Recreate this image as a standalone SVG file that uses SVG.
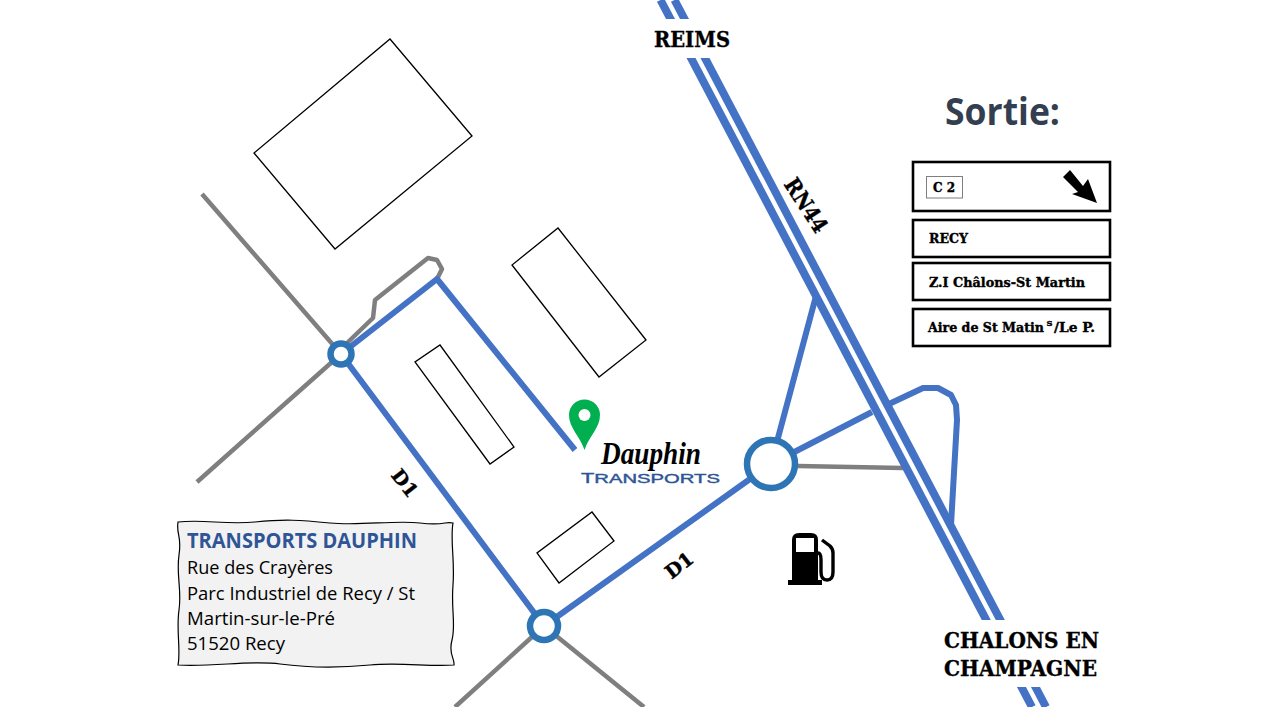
<svg xmlns="http://www.w3.org/2000/svg" width="1262" height="707" viewBox="0 0 1262 707">
<style>
.bld{fill:#fff;stroke:#000;stroke-width:1.3}
.blue{fill:none;stroke:#4472c4;stroke-width:6;stroke-linejoin:round}
.road{fill:none;stroke:#4472c4;stroke-width:8}
.gray{fill:none;stroke:#7f7f7f;stroke-width:4.5;stroke-linejoin:round}
.ring{fill:#fff;stroke:#2e75b6;stroke-width:6.5}
.slab{font-family:"DejaVu Serif","Liberation Serif",serif;font-weight:700;fill:#000;stroke:#000;stroke-width:.4}
.lab{font-size:22px}
.sign{font-size:13.5px}
.box{fill:#fff;stroke:#000;stroke-width:2.6}
.addr{font-family:"Open Sans","Noto Sans",sans-serif;font-size:19px;fill:#000}
</style>
<rect width="1262" height="707" fill="#fff"/>
<g id="buildings">
<polygon class="bld" points="390,39 472,136 335,249 254,153"/>
<polygon class="bld" points="558,228 646,340 599,377 512,265"/>
<polygon class="bld" points="440,345 514,447 490,464 415,362"/>
<polygon class="bld" points="592,512 614,541 559,583 537,553"/>
</g>
<g id="connectors">
<path class="gray" d="M202,194L341,354M197,482L341,354M455,707L544,626L644,707M798,466L903,468"/>
<path class="gray" d="M346,344L373,318L375,300L428,258L437,260L442,269L437,279"/>
<path class="blue" d="M341,354L437,279L575,450"/>
<path class="blue" d="M341,354L544,626L771,464"/>
<path class="blue" d="M771,464L816,296"/>
<path class="blue" d="M771,464L872,412"/>
<path class="blue" d="M889,404L923,388L938,388L951,395L956,405L957,420L951,525"/>
<path class="road" d="M660.5,0L1032,707"/>
<path class="road" d="M674.5,0L1046,707"/>
</g>
<g id="reims">
<rect x="650" y="19" width="90" height="39" fill="#fff"/>
<text class="slab lab" x="654" y="47" textLength="76" lengthAdjust="spacingAndGlyphs">REIMS</text>
</g>
<g id="chalons">
<rect x="940" y="620" width="165" height="67" fill="#fff"/>
<text class="slab lab" x="944" y="648" textLength="155" lengthAdjust="spacingAndGlyphs">CHALONS EN</text>
<text class="slab lab" x="944" y="676" textLength="153" lengthAdjust="spacingAndGlyphs">CHAMPAGNE</text>
</g>
<text id="rn44" class="slab" font-size="22" transform="translate(790,180) rotate(57)" x="0" y="0" dy="8" textLength="60" lengthAdjust="spacingAndGlyphs">RN44</text>
<text id="d1-left" class="slab" font-size="19" text-anchor="middle" transform="translate(405,483) rotate(52)" y="7" textLength="30" lengthAdjust="spacingAndGlyphs">D1</text>
<text id="d1-right" class="slab" font-size="19" text-anchor="middle" transform="translate(679,565) rotate(-38)" y="7" textLength="30" lengthAdjust="spacingAndGlyphs">D1</text>
<g id="junction-nw"><circle class="ring" cx="341" cy="354" r="10.5"/></g>
<g id="junction-s"><circle class="ring" cx="544" cy="626" r="14"/></g>
<g id="junction-e"><circle class="ring" cx="771" cy="464" r="24"/></g>
<g id="pin">
<path d="M584.5,450C580,436 569,428 569,415A15.5,15.5 0 0 1 600,415C600,428 589,436 584.5,450Z" fill="#00b050"/>
<circle cx="584.5" cy="415" r="6" fill="#fff"/>
</g>
<g id="logo">
<text x="601" y="464" font-family="'Liberation Serif',serif" font-style="italic" font-weight="700" font-size="30.5" fill="#000" textLength="100" lengthAdjust="spacingAndGlyphs">Dauphin</text>
<text x="581" y="483" font-family="'Liberation Sans',sans-serif" font-size="14" fill="#2f5597" stroke="#2f5597" stroke-width=".4" textLength="139" lengthAdjust="spacingAndGlyphs">T<tspan font-size="13">RANSPORTS</tspan></text>
</g>
<g id="pump">
<path d="M792,580V540Q792,533 799,533H811Q818,533 818,540V580H822V585H788V580ZM796,538V552H814V538Z" fill="#000" fill-rule="evenodd"/>
<path d="M822,540L830,546Q833,549 833,553V572Q833,580 827,580Q821,580 821,572V560Q821,553 818,553" fill="none" stroke="#000" stroke-width="3.4"/>
</g>
<g id="address">
<path d="M178,522C205,519 225,525 255,522S300,520 330,523S395,520 420,523S445,521 453,523C450,540 455,560 453,585S456,625 452,640S455,658 454,665C430,667 400,662 370,665S310,668 280,664S215,667 178,665C181,650 176,630 179,610S176,575 179,555S176,535 178,522Z" fill="#f2f2f2" stroke="#000" stroke-width="1.2"/>
<text x="187" y="548" font-family="'Open Sans','Noto Sans',sans-serif" font-weight="700" font-size="21" fill="#2f5597" textLength="230" lengthAdjust="spacingAndGlyphs">TRANSPORTS DAUPHIN</text>
<text class="addr" x="187" y="574" textLength="146" lengthAdjust="spacingAndGlyphs">Rue des Crayères</text>
<text class="addr" x="187" y="600" textLength="228" lengthAdjust="spacingAndGlyphs">Parc Industriel de Recy / St</text>
<text class="addr" x="187" y="625" textLength="148" lengthAdjust="spacingAndGlyphs">Martin-sur-le-Pré</text>
<text class="addr" x="187" y="650" textLength="98" lengthAdjust="spacingAndGlyphs">51520 Recy</text>
</g>
<text id="sortie" x="945" y="125" font-family="'Open Sans','Noto Sans',sans-serif" font-weight="700" font-size="37" fill="#333f50" textLength="115" lengthAdjust="spacingAndGlyphs">Sortie:</text>
<g id="sign-c2">
<rect class="box" x="913" y="162" width="197" height="49"/>
<rect x="926.5" y="176.5" width="36" height="21.5" fill="#fff" stroke="#7f7f7f" stroke-width="1"/>
<text class="slab" font-size="13" x="933" y="192" textLength="22" lengthAdjust="spacingAndGlyphs">C 2</text>
<polygon points="1070,170 1063,177 1078,192 1072,194 1097,203 1088,179 1083,186" fill="#000"/>
</g>
<g id="sign-recy">
<rect class="box" x="913" y="220" width="197" height="37"/>
<text class="slab sign" x="929" y="243" textLength="39" lengthAdjust="spacingAndGlyphs">RECY</text>
</g>
<g id="sign-zi">
<rect class="box" x="913" y="263" width="197" height="37"/>
<text class="slab sign" x="929" y="287" textLength="156" lengthAdjust="spacingAndGlyphs">Z.I Châlons-St Martin</text>
</g>
<g id="sign-aire">
<rect class="box" x="913" y="309" width="197" height="37"/>
<text class="slab" font-size="12.6" x="928" y="332" textLength="116" lengthAdjust="spacingAndGlyphs">Aire de St Matin</text>
<text class="slab" font-size="8" x="1046.5" y="326" textLength="6" lengthAdjust="spacingAndGlyphs">S</text>
<text class="slab sign" x="1054" y="332" textLength="41" lengthAdjust="spacingAndGlyphs">/Le P.</text>
</g>
</svg>
